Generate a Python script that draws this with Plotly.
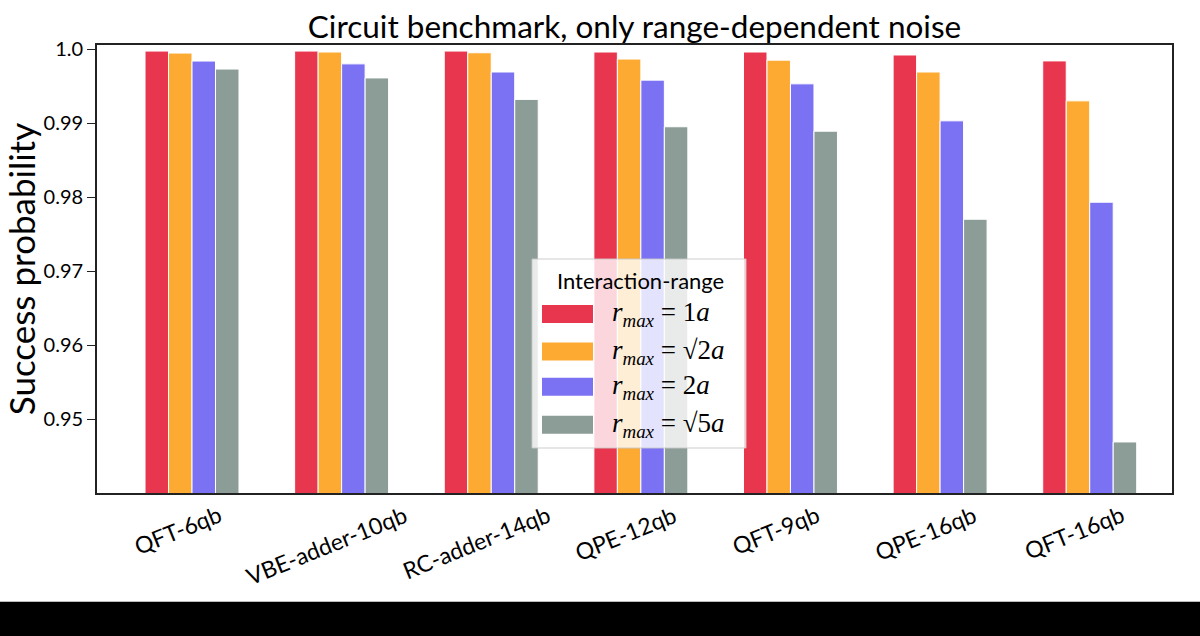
import plotly.graph_objects as go

categories = ["QFT-6qb", "VBE-adder-10qb", "RC-adder-14qb", "QPE-12qb", "QFT-9qb", "QPE-16qb", "QFT-16qb"]
r1 = [0.99973, 0.99973, 0.99973, 0.99960, 0.99960, 0.99920, 0.99840]
rsqrt2 = [0.99946, 0.99960, 0.99950, 0.99865, 0.99850, 0.99690, 0.99300]
r2 = [0.99838, 0.99800, 0.99690, 0.99580, 0.99530, 0.99030, 0.97930]
rsqrt5 = [0.99730, 0.99610, 0.99320, 0.98950, 0.98890, 0.97700, 0.94690]
series = [r1, rsqrt2, r2, rsqrt5]
series_names = ["r_max = 1a", "r_max = √2a", "r_max = 2a", "r_max = √5a"]
legend_labels = [
    "<i>r</i><sub><i>max</i></sub> = 1<i>a</i>",
    "<i>r</i><sub><i>max</i></sub> = √2<i>a</i>",
    "<i>r</i><sub><i>max</i></sub> = 2<i>a</i>",
    "<i>r</i><sub><i>max</i></sub> = √5<i>a</i>",
]
colors = ["#E8364F", "#FDAA33", "#7B72F3", "#8C9D98"]
ytick_vals = [0.95, 0.96, 0.97, 0.98, 0.99, 1.0]
ytick_text = ["0.95", "0.96", "0.97", "0.98", "0.99", "1.0"]

FONT = "Lato"
fig = go.Figure()
for vals, name, col in zip(series, series_names, colors):
    fig.add_trace(go.Bar(x=categories, y=vals, name=name,
                         marker=dict(color=col, line=dict(color="white", width=1))))

L, R, T, B = 97, 28, 45, 143
W, H = 1200, 636
pw, ph = W - L - R, H - T - B

def px(x):
    return (x - L) / pw

def py(y):
    return (H - B - y) / ph

shapes = []
# legend box
shapes.append(dict(type="rect", xref="paper", yref="paper", x0=px(532), x1=px(746), y0=py(448), y1=py(259),
                   fillcolor="rgba(255,255,255,0.8)", line=dict(color="rgba(200,200,200,0.9)", width=1), layer="above"))
annotations = [dict(xref="paper", yref="paper", x=px(640), y=py(280), text="Interaction-range", showarrow=False,
                    font=dict(family=FONT, size=22, color="black"), xanchor="center", yanchor="middle")]
centers = [314, 351.5, 386.7, 424.7]
for c, col, lab in zip(centers, colors, legend_labels):
    shapes.append(dict(type="rect", xref="paper", yref="paper", x0=px(542), x1=px(593), y0=py(c + 9), y1=py(c - 9),
                       fillcolor=col, line=dict(width=0), layer="above"))
    annotations.append(dict(xref="paper", yref="paper", x=px(610), y=py(c), text=lab, showarrow=False,
                            font=dict(family="Liberation Serif", size=27, color="black"), xanchor="left", yanchor="middle"))
# rotated category labels, centred below each group
for cat in categories:
    annotations.append(dict(xref="x", yref="paper", x=cat, xshift=-15, y=py(497), text=cat, showarrow=False,
                            textangle=-22, xanchor="center", yanchor="top",
                            font=dict(family=FONT, size=23, color="black")))
# bottom black strip
shapes.append(dict(type="rect", xref="paper", yref="paper", x0=px(-5), x1=px(1205), y0=py(640), y1=py(602),
                   fillcolor="black", line=dict(width=0), layer="above"))
shapes.append(dict(type="line", xref="paper", yref="paper", x0=px(0), x1=px(1200), y0=py(601.5), y1=py(601.5),
                   line=dict(color="#bbbbbb", width=1), layer="above"))

fig.update_layout(
    width=W, height=H,
    margin=dict(l=L, r=R, t=T, b=B),
    paper_bgcolor="white", plot_bgcolor="white",
    barmode="group", bargap=0.372, bargroupgap=0,
    showlegend=False,
    title=dict(text="Circuit benchmark, only range-dependent noise", x=(L + pw / 2) / W, xanchor="center",
               y=1 - 27 / H, yanchor="middle", font=dict(family=FONT, size=31.5, color="black")),
    font=dict(family=FONT, color="black"),
    shapes=shapes,
    annotations=annotations,
)
fig.update_xaxes(range=[-0.635, 6.55], showline=True, mirror=True, linecolor="#222", linewidth=1.8,
                 ticks="", showticklabels=False, showgrid=False)
fig.update_yaxes(range=[0.94, 1.00055], tickvals=ytick_vals, ticktext=ytick_text, showline=True, mirror=True,
                 linecolor="#222", linewidth=1.8, ticks="outside", ticklen=8, tickcolor="#222",
                 tickfont=dict(family=FONT, size=20), showgrid=False, zeroline=False,
                 title=dict(text="Success probability", font=dict(family=FONT, size=35), standoff=6))
fig.write_html("out.html")
